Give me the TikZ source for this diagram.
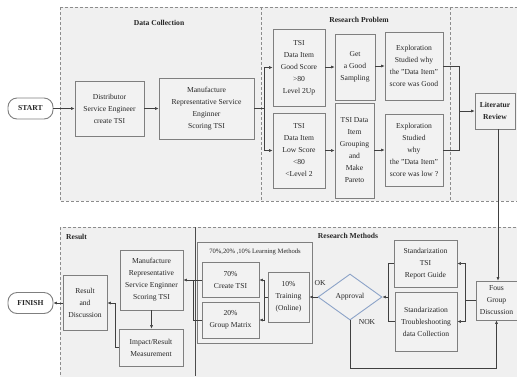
\documentclass[tikz,border=0pt]{standalone}
\usepackage{fontspec}
\setmainfont{Liberation Serif}
\usetikzlibrary{arrows.meta,shapes.geometric}
\definecolor{regfill}{HTML}{F0F0F0}
\definecolor{regline}{HTML}{8C8C8C}
\definecolor{boxline}{HTML}{7F7F7F}
\definecolor{boxfill}{HTML}{F2F2F2}
\definecolor{dialine}{HTML}{8CA3C8}
\newcommand{\fs}{\fontsize{7.6}{12}\selectfont}
\tikzset{
  region/.style={draw=regline, fill=regfill, densely dashed, line width=0.5pt},
  box/.style={draw=boxline, fill=boxfill, line width=0.9pt, align=center, inner sep=1pt, font=\fs, text=black!85},
  term/.style={box, fill=white, rounded corners=9pt, font=\fs\bfseries},
  ttl/.style={font=\fs\bfseries, text=black!85, inner sep=0pt},
  lbl/.style={font=\fs, text=black!85, inner sep=0pt},
  arr/.style={-{Latex[length=3.5pt,width=3pt]}, line width=0.5pt, draw=black!75},
  ln/.style={line width=0.5pt, draw=black!75},
}
\begin{document}
\begin{tikzpicture}[x=1pt,y=-1pt]
\useasboundingbox (0,0) rectangle (517,376);
% regions
\path[region] (60,7) rectangle (520,201);
\path[region] (60,227) rectangle (520,380);
\draw[regline, densely dashed, line width=0.5pt] (261,7) -- (261,201);
\draw[regline, densely dashed, line width=0.5pt] (450,7) -- (450,201);
\draw[black!70, line width=0.4pt] (195,227) -- (195,376);
% titles
\node[ttl] (tdc) at (159,23) {Data Collection};
\node[ttl] (trp) at (359,20) {Research Problem};
\node[ttl, anchor=west] (tres) at (66,237) {Result};
\node[ttl] (trm) at (348,236) {Research Methods};
% top nodes
\node[term, minimum width=45, minimum height=21] (start) at (30.5,108.5) {START};
\node[box, minimum width=69, minimum height=55] (dist) at (109.5,108.5) {Distributor\\Service Engineer\\create TSI};
\node[box, minimum width=95, minimum height=61] (mrs) at (206.5,108.5) {Manufacture\\Representative Service\\Enginner\\Scoring TSI};
\node[box, minimum width=52, minimum height=77] (tsig) at (299,67.5) {TSI\\Data Item\\Good Score\\>80\\Level 2Up};
\node[box, minimum width=40, minimum height=66] (gets) at (355,67) {Get\\a Good\\Sampling};
\node[box, minimum width=58, minimum height=68] (expg) at (414,66) {Exploration\\Studied why\\the "Data Item"\\score was Good};
\node[box, minimum width=52, minimum height=75] (tsil) at (299,150.5) {TSI\\Data Item\\Low Score\\<80\\<Level 2};
\node[box, minimum width=39, minimum height=95] (tsigr) at (354.5,150.5) {TSI Data\\Item\\Grouping\\and\\Make\\Pareto};
\node[box, minimum width=58, minimum height=72] (expl) at (414,150) {Exploration\\Studied\\why\\the "Data Item"\\score was low ?};
\node[box, minimum width=40, minimum height=36, font=\fs\bfseries] (lit) at (495,111) {Literatur\\Review};
% bottom nodes
\node[box, minimum width=41, minimum height=39] (fous) at (496.5,300.5) {Fous\\Group\\Discussion};
\node[box, minimum width=63, minimum height=47] (st1) at (425.5,263.5) {Standarization\\TSI\\Report Guide};
\node[box, minimum width=62, minimum height=59] (st2) at (426,321.5) {Standarization\\Troubleshooting\\data Collection};
\node[diamond, draw=dialine, fill=boxfill, line width=0.9pt, inner sep=0pt, minimum width=64, minimum height=46, font=\fs, text=black!85] (appr) at (350,297) {Approval};
\node[box, minimum width=115, minimum height=101] (lmc) at (254.5,292.5) {};
\node[lbl, font=\fontsize{6.6}{8}\selectfont] (lmt) at (255,252) {70\%,20\% ,10\% Learning Methods};
\node[box, minimum width=41, minimum height=50] (train) at (288.5,297) {10\%\\Training\\(Online)};
\node[box, minimum width=57, minimum height=35] (c70) at (230.5,280) {70\%\\Create TSI};
\node[box, minimum width=57, minimum height=36] (g20) at (230.5,320) {20\%\\Group Matrix};
\node[box, minimum width=63, minimum height=60] (mr) at (151.5,280) {Manufacture\\Representative\\Service Enginner\\Scoring TSI};
\node[box, minimum width=64, minimum height=37] (imp) at (151,347.5) {Impact/Result\\Measurement};
\node[box, minimum width=44, minimum height=55] (res) at (85,303) {Result\\and\\Discussion};
\node[term, minimum width=45, minimum height=21] (fin) at (30.5,303) {FINISH};
\node[lbl] (okl) at (320,283) {OK};
\node[lbl] (nokl) at (367,322) {NOK};
% connectors top
\draw[arr] (start) -- (dist);
\draw[arr] (dist) -- (mrs);
\coordinate (sp) at (264,108.5);
\draw[ln] (mrs.east) -- (sp);
\draw[arr] (sp) |- (tsig.west);
\draw[arr] (sp) |- (tsil.west);
\draw[arr] (tsig.east |- gets.west) -- (gets.west);
\draw[arr] (gets.east |- expg.west) -- (expg.west);
\draw[arr] (tsil.east) -- (tsigr.west |- tsil.east);
\draw[arr] (tsigr.east |- expl.west) -- (expl.west);
\coordinate (mg) at (459,111);
\draw[ln] (expg.east) -| (mg);
\draw[ln] (expl.east) -| (mg);
\draw[arr] (mg) -- (lit.west);
\coordinate (lb) at (498,129);
\draw[arr] (lb) -- (lb |- fous.north);
% connectors bottom
\coordinate (fs) at (465,300.5);
\draw[ln] (fous.west) -- (fs);
\draw[arr] (fs) |- (st1.east);
\draw[arr] (fs) |- (st2.east);
\coordinate (sa) at (388,297);
\draw[ln] (st1.west) -| (sa);
\draw[ln] (st2.west) -| (sa);
\draw[arr] (sa) -- (appr.east);
\draw[arr] (appr.west) -- (train.east);
\coordinate (nk) at (350,368);
\draw[arr] (appr.south) -- (nk) -| (fous.south);
\coordinate (tl) at (264,297);
\draw[ln] (train.west) -- (tl);
\draw[arr] (tl) |- (c70.east);
\draw[arr] (tl) |- (g20.east);
\coordinate (lm) at (193,280);
\draw[ln] (g20.west) -| (lm) -- (c70.west);
\draw[arr] (lm) -- (mr.east);
\draw[arr] (mr.south) -- (mr.south |- imp.north);
\coordinate (ir) at (115,303);
\draw[ln] (imp.west) -| (ir);
\draw[arr] (ir) -- (res.east);
\draw[arr] (res) -- (fin);
\end{tikzpicture}
\end{document}
